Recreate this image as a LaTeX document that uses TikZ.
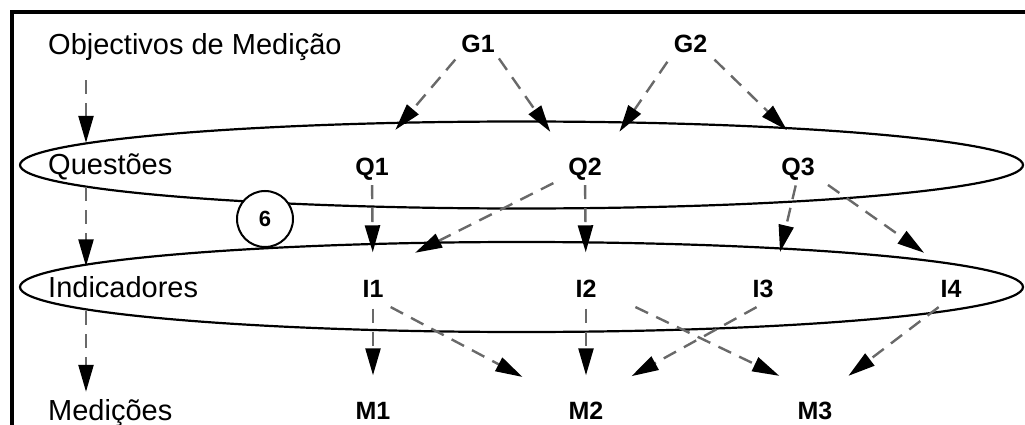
\documentclass[tikz,border=0pt]{standalone}
\usepackage{fontspec}
\setmainfont{Liberation Sans}
\usetikzlibrary{arrows.meta,shapes.geometric}
\definecolor{dashgray}{RGB}{105,105,105}
\tikzset{
  lbl/.style={anchor=base west, inner sep=0pt, text height=21pt, text depth=6pt, font=\fontsize{29}{32}\selectfont},
  itm/.style={anchor=base, inner sep=0pt, text height=18pt, text depth=0pt, font=\fontsize{25}{28}\selectfont\bfseries},
  arr/.style={draw=dashgray, line width=2.4pt, dash pattern=on 14pt off 9pt,
    arrows={-Triangle[length=27pt,width=15pt,black]}},
  setring/.style={draw, ellipse, line width=2.2pt, inner sep=0pt},
}
\begin{document}
\begin{tikzpicture}[x=1pt,y=-1pt]
\useasboundingbox (0,0) rectangle (1025,425);
\begin{scope}
\clip (0,0) rectangle (1025,425);
\draw[line width=3.5pt] (12,440) -- (12,12) -- (1040,12);
\end{scope}

% sets
\node[setring, minimum width=1003pt, minimum height=87pt] (qset) at (521.5,165) {};
\node[setring, minimum width=1003pt, minimum height=90pt] (iset) at (521.5,287) {};
\node[draw, circle, line width=2pt, fill=white, minimum size=56pt, inner sep=0pt,
      font=\fontsize{22}{24}\selectfont\bfseries] (six) at (265,219) {6};

% left labels
\node[lbl] (obj) at (48,55) {Objectivos de Medição};
\node[lbl] (que) at (48,175) {Questões};
\node[lbl] (ind) at (48,297) {Indicadores};
\node[lbl] (med) at (48,420) {Medições};

% items
\node[itm] (G1) at (478,52.5) {G1};
\node[itm] (G2) at (690.5,52.5) {G2};
\node[itm] (Q1) at (372,175.5) {Q1};
\node[itm] (Q2) at (585,175.5) {Q2};
\node[itm] (Q3) at (798,175.5) {Q3};
\node[itm] (I1) at (373,297.5) {I1};
\node[itm] (I2) at (586,297.5) {I2};
\node[itm] (I3) at (763,297.5) {I3};
\node[itm] (I4) at (951,297.5) {I4};
\node[itm] (M1) at (373,419.5) {M1};
\node[itm] (M2) at (586,419.5) {M2};
\node[itm] (M3) at (815,419.5) {M3};

% left column arrows
\draw[arr, shorten <=19pt, shorten >=11pt] ([xshift=38pt]obj.south west) -- ([xshift=38pt]que.north west);
\draw[arr, shorten <=6pt, shorten >=9.5pt] ([xshift=38pt]que.south west) -- ([xshift=38pt]ind.north west);
\draw[arr, shorten <=8pt, shorten >=7pt] ([xshift=38pt]ind.south west) -- ([xshift=38pt]med.north west);

% goals -> questions
\draw[arr, shorten <=9pt, shorten >=36pt] (G1.south west) -- (Q1.north);
\draw[arr, shorten <=7pt, shorten >=31pt] (G1.south east) -- (Q2.north west);
\draw[arr, shorten <=11pt, shorten >=31pt] (G2.south west) -- (Q2.north east);
\draw[arr, shorten <=10pt, shorten >=39pt] (G2.south east) -- (Q3.north east);

% questions -> indicators
\draw[arr, shorten <=9.5pt, shorten >=27pt] (Q1.south) -- (I1.north);
\draw[arr, shorten <=16.5pt, shorten >=59pt] (Q2.south west) -- (I1.north west);
\draw[arr, shorten <=9.5pt, shorten >=27pt] (Q2.south) -- (I2.north);
\draw[arr, shorten <=10pt, shorten >=28pt] (Q3.south) -- (I3.north east);
\draw[arr, shorten <=16pt, shorten >=46pt] (Q3.south east) -- (I4.north east);

% indicators -> measurements
\draw[arr, shorten <=11pt, shorten >=26pt] (I1.south) -- (M1.north);
\draw[arr, shorten <=20pt, shorten >=52pt] (I1.south) -- (M2.north west);
\draw[arr, shorten <=11pt, shorten >=26pt] (I2.south) -- (M2.north);
\draw[arr, shorten <=43pt, shorten >=59pt] (I2.east) -- (M3.north east);
\draw[arr, shorten <=19.5pt, shorten >=52pt] (I3.south east) -- (M2.north);
\draw[arr, shorten <=15.5pt, shorten >=42pt] (I4.south) -- (M3.north);
\end{tikzpicture}
\end{document}
